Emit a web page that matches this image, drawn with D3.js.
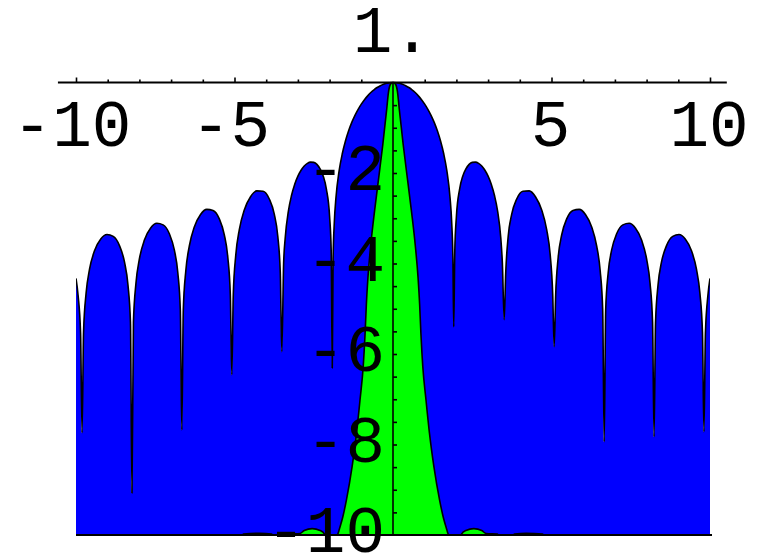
<!DOCTYPE html>
<html><head><meta charset="utf-8">
<script src="https://cdn.jsdelivr.net/npm/d3@7"></script>
<style>
body{margin:0;background:#fff}
svg{display:block}
text{font-family:"Liberation Mono","Courier New",monospace;font-size:66px;fill:#000}
</style></head><body>
<svg id="c" width="758" height="554"></svg>
<script>
// ---- data ----
const bluePts = [
[-10,-4.33],[-9.935,-4.70],[-9.856,-5.53],[-9.809,-7.74],
[-9.762,-5.520],[-9.683,-4.665],[-9.573,-4.126],[-9.416,-3.718],[-9.219,-3.458],[-9.022,-3.360],[-8.825,-3.400],[-8.629,-3.604],[-8.471,-3.966],[-8.361,-4.473],[-8.282,-5.306],[-8.235,-9.07],
[-8.188,-5.295],[-8.109,-4.438],[-7.999,-3.895],[-7.842,-3.482],[-7.645,-3.216],[-7.449,-3.112],[-7.252,-3.146],[-7.055,-3.344],[-6.898,-3.701],[-6.788,-4.204],[-6.709,-5.035],[-6.662,-7.68],
[-6.615,-5.023],[-6.536,-4.161],[-6.425,-3.613],[-6.268,-3.193],[-6.071,-2.916],[-5.874,-2.803],[-5.676,-2.828],[-5.479,-3.015],[-5.322,-3.365],[-5.211,-3.863],[-5.132,-4.689],[-5.085,-6.46],
[-5.038,-4.678],[-4.959,-3.809],[-4.848,-3.252],[-4.691,-2.818],[-4.494,-2.525],[-4.297,-2.395],[-4.099,-2.403],[-3.902,-2.574],[-3.745,-2.910],[-3.634,-3.399],[-3.555,-4.218],[-3.508,-5.95],
[-3.45,-3.99],[-3.4,-3.434],[-3.3,-2.843],[-3.2,-2.492],[-3.1,-2.248],[-3.0,-2.07],[-2.9,-1.939],[-2.8,-1.846],[-2.7,-1.786],[-2.6,-1.759],[-2.5,-1.765],[-2.4,-1.81],[-2.3,-1.91],[-2.2,-2.07],[-2.1,-2.36],[-2.0,-2.96],[-1.95,-3.71],[-1.916,-6.31],
[-1.89,-3.9],[-1.85,-3.07],[-1.8,-2.55],[-1.7,-1.954],[-1.6,-1.574],[-1.5,-1.292],[-1.4,-1.067],[-1.3,-0.882],[-1.2,-0.726],[-1.1,-0.593],[-1.0,-0.478],[-0.9,-0.379],[-0.8,-0.295],[-0.7,-0.222],[-0.6,-0.161],[-0.5,-0.111],[-0.4,-0.071],[-0.3,-0.039],[-0.2,-0.018],[-0.1,-0.004],
[0,0],
[0.1,-0.004],[0.2,-0.018],[0.3,-0.039],[0.4,-0.071],[0.5,-0.111],[0.6,-0.161],[0.7,-0.222],[0.8,-0.295],[0.9,-0.379],[1.0,-0.478],[1.1,-0.593],[1.2,-0.726],[1.3,-0.882],[1.4,-1.067],[1.5,-1.292],[1.6,-1.574],[1.7,-1.954],[1.8,-2.55],[1.85,-3.07],[1.89,-3.9],
[1.916,-5.40],
[1.95,-3.71],[2.0,-2.96],[2.1,-2.36],[2.2,-2.07],[2.3,-1.91],[2.4,-1.81],[2.5,-1.765],[2.6,-1.759],[2.7,-1.786],[2.8,-1.846],[2.9,-1.939],[3.0,-2.07],[3.1,-2.248],[3.2,-2.492],[3.3,-2.843],[3.4,-3.434],[3.45,-3.99],
[3.508,-5.24],
[3.555,-4.218],[3.634,-3.399],[3.745,-2.910],[3.902,-2.574],[4.099,-2.403],[4.297,-2.395],[4.494,-2.525],[4.691,-2.818],[4.848,-3.252],[4.959,-3.809],[5.038,-4.678],
[5.085,-5.84],
[5.132,-4.689],[5.211,-3.863],[5.322,-3.365],[5.479,-3.015],[5.676,-2.828],[5.874,-2.803],[6.071,-2.916],[6.268,-3.193],[6.425,-3.613],[6.536,-4.161],[6.615,-5.023],
[6.662,-7.94],
[6.709,-5.035],[6.788,-4.204],[6.898,-3.701],[7.055,-3.344],[7.252,-3.146],[7.449,-3.112],[7.645,-3.216],[7.842,-3.482],[7.999,-3.895],[8.109,-4.438],[8.188,-5.295],
[8.235,-7.83],
[8.282,-5.306],[8.361,-4.473],[8.471,-3.966],[8.629,-3.604],[8.825,-3.400],[9.022,-3.360],[9.219,-3.458],[9.416,-3.718],[9.573,-4.126],[9.683,-4.665],[9.762,-5.520],
[9.809,-7.72],
[9.856,-5.53],[9.935,-4.70],[10,-4.33]
];

const greenPts = [
[-10,-12],[-6,-11],[-5.0,-10.5],[-4.72,-9.98],[-4.2,-9.96],[-3.83,-9.98],[-3.5,-10.5],[-3.3,-9.98],[-2.94,-9.97],
[-2.8,-9.9],[-2.55,-9.86],[-2.3,-9.9],[-2.15,-9.99],[-2.05,-10.2],[-1.9,-10.8],[-1.78,-10.1],[-1.7,-9.89],
[-1.58,-9.59],[-1.47,-9.23],[-1.29,-8.49],[-1.15,-7.75],[-1.04,-7.01],[-0.94,-6.28],[-0.88,-5.54],[-0.84,-4.9],
[-0.79,-4.31],[-0.7,-3.58],[-0.58,-2.83],[-0.45,-2.1],[-0.32,-1.36],[-0.2,-0.6],[-0.14,-0.2],[-0.08,-0.04],
[0,0],
[0.08,-0.04],[0.14,-0.2],[0.2,-0.6],[0.32,-1.36],[0.45,-2.1],[0.58,-2.83],[0.7,-3.58],[0.79,-4.31],[0.84,-4.9],
[0.88,-5.54],[0.94,-6.28],[1.04,-7.01],[1.15,-7.75],[1.29,-8.49],[1.47,-9.23],[1.58,-9.59],[1.7,-9.89],
[1.78,-10.1],[1.9,-10.8],[2.05,-10.2],[2.15,-9.99],[2.3,-9.9],[2.55,-9.86],[2.8,-9.9],[2.94,-9.97],
[3.3,-9.98],[3.5,-10.5],[3.83,-9.98],[4.2,-9.96],[4.72,-9.98],[5.0,-10.5],[6,-11],[10,-12]
];

const xMajorTicks = [-10,-5,5,10];
const xMinorTicks = [-9,-8,-7,-6,-4,-3,-2,-1,1,2,3,4,6,7,8,9];
const xLabelValues = [-10,-5,5,10];
const xTickLabels = ["-10","-5","5","10"];
const yMinorTicks = [-0.5,-1,-1.5,-2,-2.5,-3,-3.5,-4,-4.5,-5,-5.5,-6,-6.5,-7,-7.5,-8,-8.5,-9,-9.5];
const yLabelValues = [-2,-4,-6,-8,-10];
const yTickLabels = ["-2","-4","-6","-8","-10"];
const topLabel = "1.";

// ---- drawing ----
const svg = d3.select("#c");
const x = d3.scaleLinear().domain([-10,10]).range([76,710]);
const y = d3.scaleLinear().domain([0,-10]).range([82.5,535]);

svg.append("defs").append("clipPath").attr("id","plotclip")
  .append("rect").attr("x",x(-10)).attr("y",y(0)-3)
  .attr("width",x(10)-x(-10)).attr("height",y(-10)-y(0)+3);

const g = svg.append("g").attr("clip-path","url(#plotclip)");

const area = d3.area().x(d=>x(d[0])).y0(y(-10)).y1(d=>y(d[1])).curve(d3.curveMonotoneX);
const line = d3.line().x(d=>x(d[0])).y(d=>y(d[1])).curve(d3.curveMonotoneX);

g.append("path").datum(bluePts).attr("d",area).attr("fill","#0000ff");
g.append("path").datum(bluePts).attr("d",line).attr("fill","none").attr("stroke","#000").attr("stroke-width",1.6).attr("stroke-linejoin","round");
g.append("path").datum(greenPts).attr("d",area).attr("fill","#00ff00");
g.append("path").datum(greenPts).attr("d",line).attr("fill","none").attr("stroke","#000").attr("stroke-width",1.6).attr("stroke-linejoin","round");

// bottom line at y=-10
svg.append("line").attr("x1",x(-10)).attr("x2",x(10)+2).attr("y1",y(-10)).attr("y2",y(-10))
  .attr("stroke","#000").attr("stroke-width",2);

// y axis line and ticks
svg.append("line").attr("x1",x(0)).attr("x2",x(0)).attr("y1",y(0)).attr("y2",y(-10))
  .attr("stroke","#000").attr("stroke-width",1.6);
const yax = svg.append("g").attr("transform",`translate(${x(0)},0)`)
  .call(d3.axisRight(y).tickValues(yMinorTicks).tickSize(4).tickFormat(""));
yax.select(".domain").remove();
yax.selectAll(".tick line").attr("stroke","#000").attr("stroke-width",1.6);

// top x axis
svg.append("line").attr("x1",x(-10.57)).attr("x2",x(10.53)).attr("y1",y(0)).attr("y2",y(0))
  .attr("stroke","#000").attr("stroke-width",1.8);
const xaxMinor = svg.append("g").attr("transform",`translate(0,${y(0)})`)
  .call(d3.axisTop(x).tickValues(xMinorTicks).tickSize(3).tickFormat(""));
const xaxMajor = svg.append("g").attr("transform",`translate(0,${y(0)})`)
  .call(d3.axisTop(x).tickValues(xMajorTicks).tickSize(5).tickFormat(""));
[xaxMinor,xaxMajor].forEach(a=>{a.select(".domain").remove();a.selectAll(".tick line").attr("stroke","#000").attr("stroke-width",1.6);});

// labels
svg.selectAll("text.xl").data(xLabelValues).enter().append("text")
  .attr("class","xl").attr("x",(d)=>x(d)+(d<0?-4:-1)).attr("y",146)
  .attr("text-anchor","middle").text((d,i)=>xTickLabels[i]);

svg.selectAll("text.yl").data(yLabelValues).enter().append("text")
  .attr("class","yl").attr("x",385).attr("y",d=>y(d)+17)
  .attr("text-anchor","end").text((d,i)=>yTickLabels[i]);

svg.append("text").attr("x",352.7).attr("y",52).attr("text-anchor","start").text(topLabel);
</script>
</body></html>
